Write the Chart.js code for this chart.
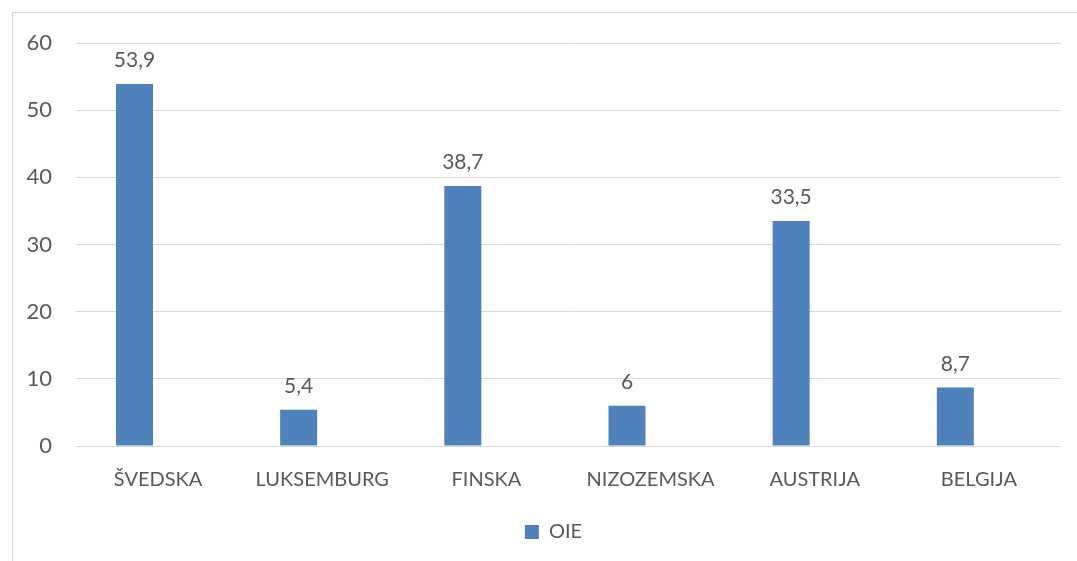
<!DOCTYPE html>
<html>
<head>
<meta charset="utf-8">
<script src="https://cdn.jsdelivr.net/npm/chart.js@4"></script>
<style>
  html, body { margin: 0; padding: 0; background: #fff; overflow: hidden; }
  #wrap { position: relative; width: 1077px; height: 561px; }
  #frame { position: absolute; left: 12px; top: 12px; width: 1080px; height: 560px; border: 1px solid #d9d9d9; box-sizing: border-box; }
  canvas { position: absolute; left: 0; top: 0; }
</style>
</head>
<body>
<div id="wrap">
  <div id="frame"></div>
  <canvas id="c" width="1077" height="561"></canvas>
</div>
<script>
const categories = ['ŠVEDSKA', 'LUKSEMBURG', 'FINSKA', 'NIZOZEMSKA', 'AUSTRIJA', 'BELGIJA'];
const seriesName = 'OIE';
const values = [53.9, 5.4, 38.7, 6, 33.5, 8.7];
const emptySeries = [];   // unused second series slot (bars sit left of category centre)
const yTicks = [0, 10, 20, 30, 40, 50, 60];

const FONT = 'Lato, "Open Sans", sans-serif';
const TXT = '#595959';

const labelPlugin = {
  id: 'valueLabels',
  afterDatasetsDraw(chart) {
    const ctx = chart.ctx;
    const meta = chart.getDatasetMeta(0);
    ctx.save();
    ctx.font = '21px ' + FONT;
    ctx.fillStyle = TXT;
    ctx.textAlign = 'center';
    ctx.textBaseline = 'alphabetic';
    meta.data.forEach((bar, i) => {
      const txt = String(values[i]).replace('.', ',');
      ctx.fillText(txt, bar.x, bar.y - 17);
    });
    ctx.restore();
  }
};

const legendShift = {
  id: 'legendShift',
  afterLayout(chart) {
    const lg = chart.legend;
    if (lg) { lg.left += 23; lg.right += 23; }
  }
};

new Chart(document.getElementById('c'), {
  type: 'bar',
  data: {
    labels: categories,
    datasets: [{
      label: seriesName,
      data: values,
      backgroundColor: '#4f81bd',
      borderWidth: 0,
      barPercentage: 0.784,
      categoryPercentage: 0.575
    }, {
      label: '',
      data: emptySeries,
      backgroundColor: 'rgba(0,0,0,0)',
      borderWidth: 0,
      barPercentage: 0.784,
      categoryPercentage: 0.575
    }]
  },
  options: {
    responsive: false,
    animation: false,
    devicePixelRatio: 1,
    layout: { padding: { left: 0, top: 43, right: 16, bottom: 9 } },
    plugins: {
      tooltip: { enabled: false },
      legend: {
        position: 'bottom',
        labels: {
          boxWidth: 14, boxHeight: 14, padding: 10,
          color: TXT,
          font: { family: FONT, size: 20 },
          filter: item => item.datasetIndex === 0
        }
      }
    },
    scales: {
      x: {
        grid: { display: false, drawTicks: false },
        border: { display: false },
        ticks: { color: TXT, font: { family: FONT, size: 20 }, padding: 22, maxRotation: 0 },
        afterFit(s) { s.height = 66; }
      },
      y: {
        min: 0, max: 60,
        afterBuildTicks(s) { s.ticks = yTicks.map(v => ({ value: v })); },
        grid: { color: '#d9d9d9', lineWidth: 1, drawTicks: false },
        border: { display: false },
        ticks: { color: TXT, font: { family: FONT, size: 22 }, padding: 24 },
        afterFit(s) { s.width = 76; }
      }
    }
  },
  plugins: [labelPlugin, legendShift]
});
</script>
</body>
</html>
